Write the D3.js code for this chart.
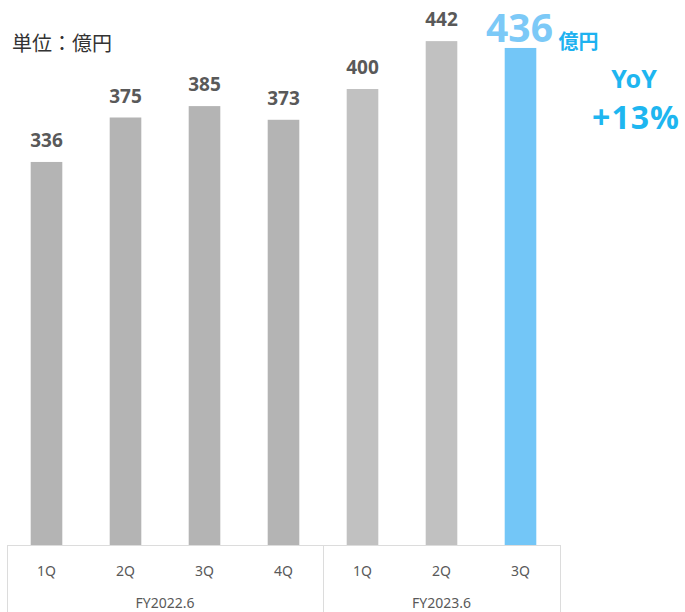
<!DOCTYPE html>
<html>
<head>
<meta charset="utf-8">
<script src="https://cdn.jsdelivr.net/npm/d3@7"></script>
<style>
  html, body { margin: 0; padding: 0; background: #fff; }
  svg { display: block; font-family: "Noto Sans CJK JP", "Noto Sans", sans-serif; }
  .num { font-family: "Noto Sans", "Noto Sans CJK JP", sans-serif; }
</style>
</head>
<body>
<svg id="chart" width="685" height="612"></svg>
<script>
// Quarterly revenue (億円)
const quarters = ["1Q", "2Q", "3Q", "4Q", "1Q", "2Q", "3Q"];
const fiscalYears = ["FY2022.6", "FY2022.6", "FY2022.6", "FY2022.6", "FY2023.6", "FY2023.6", "FY2023.6"];
const revenue = [336, 375, 385, 373, 400, 442, 436];
const yearGroups = ["FY2022.6", "FY2023.6"];
const unitLabel = "単位：億円";
const yoyLabel = ["YoY", "+13%"];

const svg = d3.select("#chart");
const left = 7, right = 560, base = 545;

const keys = quarters.map((q, i) => i);
const x = d3.scaleBand().domain(keys).range([left, right]).paddingInner(0.6).paddingOuter(0.3);
const y = d3.scaleLinear().domain([0, 500]).range([base, base - 570]);

const lastIdx = revenue.length - 1;
function barColor(i) {
  if (i === lastIdx) return "#73c6f7";
  return fiscalYears[i] === "FY2022.6" ? "#b4b4b4" : "#c1c1c1";
}

// bars
svg.append("g").selectAll("rect").data(keys).join("rect")
  .attr("x", i => x(i))
  .attr("y", i => y(revenue[i]))
  .attr("width", x.bandwidth())
  .attr("height", i => y(0) - y(revenue[i]))
  .attr("fill", barColor);

// value labels
svg.append("g").selectAll("text").data(keys.filter(i => i !== lastIdx)).join("text")
  .attr("class", "num")
  .attr("x", i => x(i) + x.bandwidth() / 2)
  .attr("y", i => y(revenue[i]) - 15)
  .attr("text-anchor", "middle")
  .attr("font-size", 19)
  .attr("font-weight", "bold")
  .attr("fill", "#595959")
  .text(i => revenue[i]);

// highlighted latest value
const cx = x(lastIdx) + x.bandwidth() / 2;
svg.append("text")
  .attr("class", "num")
  .attr("x", cx - 1)
  .attr("y", y(revenue[lastIdx]) - 6)
  .attr("text-anchor", "middle")
  .attr("font-size", 39)
  .attr("font-weight", "bold")
  .attr("fill", "#7cc9f7")
  .text(revenue[lastIdx]);
svg.append("text")
  .attr("x", cx + 38)
  .attr("y", y(revenue[lastIdx]) + 1)
  .attr("font-size", 20)
  .attr("font-weight", "bold")
  .attr("fill", "#1eb2f0")
  .text("億円");

// YoY callout
svg.append("text").attr("class", "num").attr("x", 634).attr("y", 88).attr("text-anchor", "middle")
  .attr("font-size", 25).attr("font-weight", "bold").attr("fill", "#1eb6f0").text(yoyLabel[0]);
svg.append("text").attr("class", "num").attr("x", 636).attr("y", 129).attr("text-anchor", "middle")
  .attr("font-size", 32).attr("font-weight", "bold").attr("fill", "#1eb6f0")
  .attr("letter-spacing", 1).text(yoyLabel[1]);

// unit label
svg.append("text").attr("x", 12).attr("y", 51)
  .attr("font-size", 20).attr("fill", "#333").text(unitLabel);

// category axis frame
const axisColor = "#dcdcdc";
const g = svg.append("g");
g.append("line").attr("x1", left).attr("x2", right).attr("y1", base + 0.5).attr("y2", base + 0.5)
  .attr("stroke", axisColor);
const gap = x.step() - x.bandwidth();
const bounds = [left];
yearGroups.forEach(fy => {
  const idx = keys.filter(i => fiscalYears[i] === fy);
  const last = idx[idx.length - 1];
  bounds.push(last === lastIdx ? right : x(last) + x.bandwidth() + gap / 2);
});
bounds.forEach(b => {
  g.append("line").attr("x1", Math.round(b) + 0.5).attr("x2", Math.round(b) + 0.5)
    .attr("y1", base).attr("y2", 612).attr("stroke", axisColor);
});

g.selectAll("text.q").data(keys).join("text")
  .attr("class", "q num")
  .attr("x", i => x(i) + x.bandwidth() / 2)
  .attr("y", 576)
  .attr("text-anchor", "middle")
  .attr("font-size", 14)
  .attr("fill", "#595959")
  .text(i => quarters[i]);

yearGroups.forEach((fy, k) => {
  g.append("text")
    .attr("class", "num")
    .attr("x", (bounds[k] + bounds[k + 1]) / 2)
    .attr("y", 608)
    .attr("text-anchor", "middle")
    .attr("font-size", 14)
    .attr("fill", "#595959")
    .text(fy);
});
</script>
</body>
</html>
